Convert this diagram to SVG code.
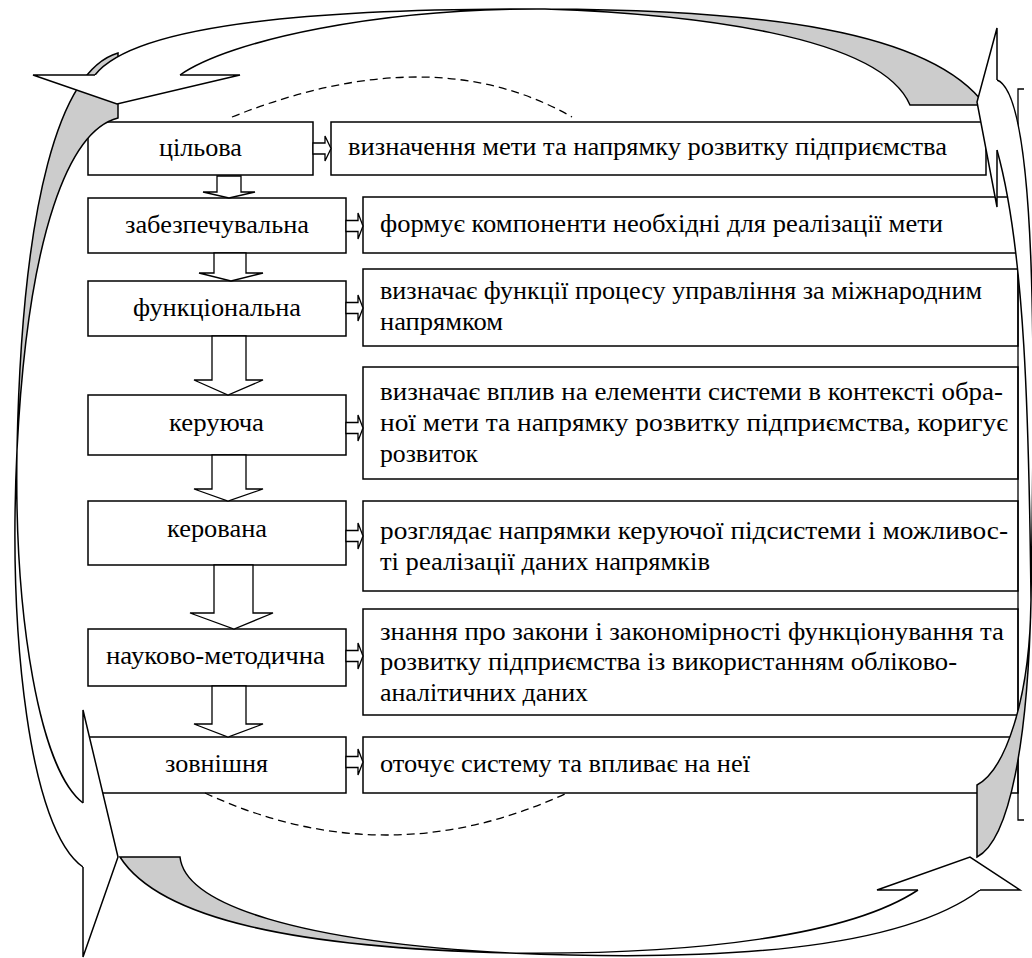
<svg xmlns="http://www.w3.org/2000/svg" width="1032" height="958" viewBox="0 0 1032 958">
<style>
.box{fill:#fff;stroke:#000;stroke-width:1.5}
.t{font-family:'Liberation Serif','Times New Roman','DejaVu Serif',serif;font-size:26px;fill:#000}
.c{text-anchor:middle}
.arr{fill:#fff;stroke:#000;stroke-width:1.3;stroke-linejoin:miter}
.band{fill:#fff;stroke:none}
.shade{fill:#cccccc;stroke:none}
.edge{fill:none;stroke:#000;stroke-width:1.5}
.head{fill:#fff;stroke:#000;stroke-width:1.5;stroke-linejoin:miter}
.dash{fill:none;stroke:#000;stroke-width:1.3;stroke-dasharray:8 5}
</style>
<defs>
<path id="bandLeft" d="M83,803 C40,770 14,620 17,450 C22,200 60,70 118,53 L118,118 C70,130 28,230 17,450 C8,640 30,830 83,867"/>
<path id="bandBottom" d="M918,890 C850,935 700,955 510,953 C300,948 160,920 120,857 L180,857 C185,905 300,942 510,953 C720,962 900,950 980,890"/>
<path id="bandRight" d="M997,80 C1040,95 1034,400 1031,600 C1030,700 1005,770 977,785 L977,857 C1010,840 1028,740 1031,600 C1029,420 1025,250 997,150"/>
<path id="bandTop" d="M95,75 C130,30 280,8 545,9 C690,14 880,35 910,105 L985,105 C930,30 760,10 545,9 C380,8 230,40 180,75"/>
<clipPath id="clipLeft"><rect x="0" y="0" width="1032" height="450"/></clipPath>
<clipPath id="clipBottom"><rect x="0" y="0" width="510" height="958"/></clipPath>
<clipPath id="clipRight"><rect x="0" y="600" width="1032" height="358"/></clipPath>
<clipPath id="clipTop"><rect x="545" y="0" width="487" height="958"/></clipPath>
</defs>

<g id="nodes">
<g id="node-tsilova">
<rect class="box" x="88" y="122" width="225" height="53"/>
<text class="t c" x="200.5" y="156" textLength="83" lengthAdjust="spacingAndGlyphs">цільова</text>
</g>
<g id="node-tsilova-desc">
<rect class="box" x="331" y="122" width="655" height="53"/>
<text class="t" x="348" y="155" textLength="599" lengthAdjust="spacingAndGlyphs">визначення мети та напрямку розвитку підприємства</text>
</g>
<g id="node-zabezp">
<rect class="box" x="88" y="198" width="258" height="55"/>
<text class="t c" x="217" y="233" textLength="184" lengthAdjust="spacingAndGlyphs">забезпечувальна</text>
</g>
<g id="node-zabezp-desc">
<rect class="box" x="363" y="197" width="655" height="56"/>
<text class="t" x="380" y="232" textLength="563" lengthAdjust="spacingAndGlyphs">формує компоненти необхідні для реалізації мети</text>
</g>
<g id="node-funk">
<rect class="box" x="88" y="281" width="258" height="55"/>
<text class="t c" x="217" y="316" textLength="168" lengthAdjust="spacingAndGlyphs">функціональна</text>
</g>
<g id="node-funk-desc">
<rect class="box" x="363" y="269" width="655" height="77"/>
<text class="t" x="380" y="299" textLength="602" lengthAdjust="spacingAndGlyphs">визначає функції процесу управління за міжнародним</text>
<text class="t" x="380" y="330" textLength="123" lengthAdjust="spacingAndGlyphs">напрямком</text>
</g>
<g id="node-keruyucha">
<rect class="box" x="88" y="395" width="258" height="60"/>
<text class="t c" x="216.5" y="431" textLength="95" lengthAdjust="spacingAndGlyphs">керуюча</text>
</g>
<g id="node-keruyucha-desc">
<rect class="box" x="363" y="367" width="655" height="112"/>
<text class="t" x="380" y="400" textLength="623" lengthAdjust="spacingAndGlyphs">визначає вплив на елементи системи в контексті обра-</text>
<text class="t" x="380" y="431" textLength="628" lengthAdjust="spacingAndGlyphs">ної мети та напрямку розвитку підприємства, коригує</text>
<text class="t" x="380" y="462" textLength="98" lengthAdjust="spacingAndGlyphs">розвиток</text>
</g>
<g id="node-kerovana">
<rect class="box" x="88" y="501" width="258" height="64"/>
<text class="t c" x="217" y="537" textLength="100" lengthAdjust="spacingAndGlyphs">керована</text>
</g>
<g id="node-kerovana-desc">
<rect class="box" x="363" y="501" width="655" height="90"/>
<text class="t" x="380" y="539" textLength="628" lengthAdjust="spacingAndGlyphs">розглядає напрямки керуючої підсистеми і можливос-</text>
<text class="t" x="380" y="570" textLength="330" lengthAdjust="spacingAndGlyphs">ті реалізації даних напрямків</text>
</g>
<g id="node-naukovo">
<rect class="box" x="88" y="629" width="258" height="57"/>
<text class="t c" x="215.5" y="664" textLength="219" lengthAdjust="spacingAndGlyphs">науково-методична</text>
</g>
<g id="node-naukovo-desc">
<rect class="box" x="363" y="609" width="655" height="106"/>
<text class="t" x="380" y="640" textLength="624" lengthAdjust="spacingAndGlyphs">знання про закони і закономірності функціонування та</text>
<text class="t" x="380" y="670" textLength="577" lengthAdjust="spacingAndGlyphs">розвитку підприємства із використанням обліково-</text>
<text class="t" x="380" y="701" textLength="208" lengthAdjust="spacingAndGlyphs">аналітичних даних</text>
</g>
<g id="node-zovnishnya">
<rect class="box" x="88" y="737" width="258" height="56"/>
<text class="t c" x="216.5" y="772" textLength="103" lengthAdjust="spacingAndGlyphs">зовнішня</text>
</g>
<g id="node-zovnishnya-desc">
<rect class="box" x="363" y="737" width="655" height="56"/>
<text class="t" x="380" y="772" textLength="370" lengthAdjust="spacingAndGlyphs">оточує систему та впливає на неї</text>
</g>
</g>

<g id="connectors">
<polygon class="arr" points="217,176 241,176 241,192 255,192 229,198 203,192 217,192"/>
<polygon class="arr" points="214,253 246,253 246,273 263,273 231,281 199,273 214,273"/>
<polygon class="arr" points="212,336 246,336 246,380 263,380 228,395 194,380 212,380"/>
<polygon class="arr" points="212,455 246,455 246,489 263,489 228,501 194,489 212,489"/>
<polygon class="arr" points="214,565 253,565 253,613 273,613 234,629 190,613 214,613"/>
<polygon class="arr" points="212,686 246,686 246,724 263,724 228,737 194,724 212,724"/>
<polygon class="arr" points="313,143 325,143 325,136 331,148.5 325,161 325,154 313,154"/>
<polygon class="arr" points="346,220.5 358,220.5 358,213 363,226 358,239 358,231.5 346,231.5"/>
<polygon class="arr" points="346,302.5 358,302.5 358,295 363,308 358,321 358,313.5 346,313.5"/>
<polygon class="arr" points="346,422.5 358,422.5 358,415 363,428 358,441 358,433.5 346,433.5"/>
<polygon class="arr" points="346,530.5 358,530.5 358,523 363,536 358,549 358,541.5 346,541.5"/>
<polygon class="arr" points="346,650.5 358,650.5 358,643 363,656 358,669 358,661.5 346,661.5"/>
<polygon class="arr" points="346,756.5 358,756.5 358,749 363,762 358,775 358,767.5 346,767.5"/>
<path class="dash" d="M232,117 Q432,37 572,117"/>
<path class="dash" d="M205,793 Q386,877 567,793"/>
<path class="edge" d="M1024,89 L1018,89 L1018,820 L1024,820" style="stroke-width:1.3"/>
</g>

<g id="cycle-arrows">
<use href="#bandLeft" class="band"/>
<use href="#bandLeft" class="shade" clip-path="url(#clipLeft)"/>
<use href="#bandLeft" class="edge"/>
<use href="#bandBottom" class="band"/>
<use href="#bandBottom" class="shade" clip-path="url(#clipBottom)"/>
<use href="#bandBottom" class="edge"/>
<use href="#bandRight" class="band"/>
<use href="#bandRight" class="shade" clip-path="url(#clipRight)"/>
<use href="#bandRight" class="edge"/>
<use href="#bandTop" class="band"/>
<use href="#bandTop" class="shade" clip-path="url(#clipTop)"/>
<use href="#bandTop" class="edge"/>
<path class="head" d="M95,75 L33,75 L117,104 L240,75 L180,75"/>
<path class="head" d="M83,803 L83,710 L118,857 L83,957 L83,867"/>
<path class="head" d="M918,890 L877,890 L970,857 L1020,890 L980,890"/>
<path class="head" d="M997,80 L997,28 L977,102 L997,207 L997,150"/>
</g>
</svg>
